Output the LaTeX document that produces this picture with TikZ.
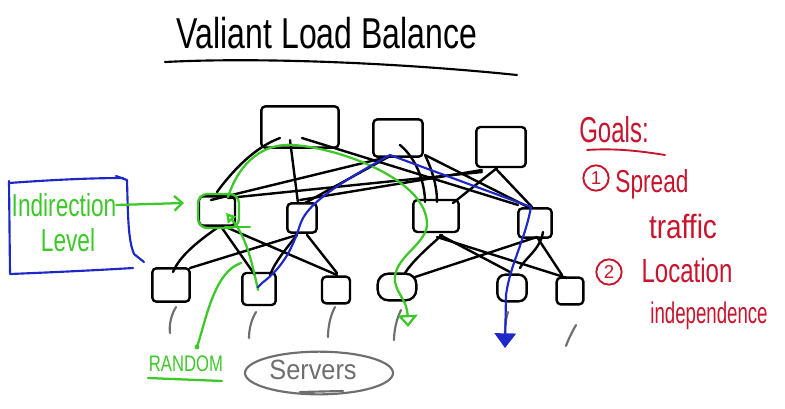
\documentclass[tikz,border=0pt]{standalone}
\usepackage{fontspec}
\usepackage{graphicx}
\setmainfont{Liberation Sans}
\usetikzlibrary{calc,arrows.meta,shapes.geometric}
\definecolor{gr}{RGB}{60,200,40}
\definecolor{bl}{RGB}{30,40,200}
\definecolor{rd}{RGB}{200,20,45}
\definecolor{sv}{RGB}{110,110,110}
\newcommand{\hw}[3]{{\fontsize{#1}{#1}\selectfont\scalebox{1}[#2]{#3}}}
\begin{document}
\begin{tikzpicture}[x=0.75pt,y=-0.75pt,line cap=round,line join=round,
  sw/.style={draw=black,line width=1.8pt,rounded corners=3pt,inner sep=0pt},
  wire/.style={draw=black,line width=1.8pt},
  gline/.style={draw=gr,line width=1.7pt},
  bline/.style={draw=bl,line width=1.6pt},
  rline/.style={draw=rd,line width=1.4pt},
  srv/.style={draw=sv,line width=1.6pt},
  lbl/.style={inner sep=0pt,outer sep=0pt}]
\useasboundingbox (0,0) rectangle (785,408);
\fill[white] (0,0) rectangle (785,408);

% title
\node[lbl] (title) at (327,33) {\hw{24}{1.35}{Valiant Load Balance}};
\draw[line width=1.6pt] (165,62) .. controls (260,57) and (400,63) .. (517,75);

% core switches
\node[sw,minimum width=58pt,minimum height=31pt] (C1) at (300,127) {};
\node[sw,minimum width=37pt,minimum height=28pt] (C2) at (398,138) {};
\node[sw,minimum width=37pt,minimum height=30pt] (C3) at (501,147) {};
% aggregation switches
\node[sw,minimum width=27pt,minimum height=22pt] (A1) at (217,211) {};
\node[sw,minimum width=22pt,minimum height=22pt] (A2) at (302,218) {};
\node[sw,minimum width=34pt,minimum height=24pt] (A3) at (436,216) {};
\node[sw,minimum width=25pt,minimum height=22pt] (A4) at (535,223) {};
% edge switches
\node[sw,minimum width=28pt,minimum height=25pt] (E1) at (171,285) {};
\node[sw,minimum width=25pt,minimum height=24pt] (E2) at (259,289) {};
\node[sw,minimum width=21pt,minimum height=20pt] (E3) at (336,290) {};
\node[sw,minimum width=29pt,minimum height=20pt,rounded corners=8pt] (E4) at (397,287) {};
\node[sw,minimum width=22pt,minimum height=20pt,rounded corners=6pt] (E5) at (512,288) {};
\node[sw,minimum width=20pt,minimum height=20pt] (E6) at (570,291) {};

% core - aggregation links
\draw[wire] ($(A1)+(0,-19)$) .. controls (236,166) and (258,146) .. ($(C1)+(-20,11)$);
\draw[wire] ($(A1)+(-6,-11)$) -- ($(C2)+(-6,18)$);
\draw[wire] ($(A1)+(11,-13)$) -- ($(C3)+(-19,25)$);
\draw[wire] ($(A2)+(-4,-15)$) -- ($(C1)+(-10,13)$);
\draw[wire] ($(A2)+(3,-15)$) -- ($(C2)+(-8,18)$);
\draw[wire] ($(A2)+(-2,-18)$) -- ($(C3)+(-19,23)$);
\draw[wire] ($(A3)+(-11,-14)$) .. controls (425,185) and (418,160) .. ($(C2)+(2,7)$);
\draw[wire] ($(A3)+(1,-14)$) .. controls (437,185) and (432,170) .. ($(C2)+(27,17)$);
\draw[wire] ($(A3)+(17,-13)$) -- ($(C3)+(-4,21)$);
\draw[wire] ($(A4)+(-17,-18)$) -- ($(C1)+(2,11)$);
\draw[wire] ($(A4)+(-5,-15)$) -- ($(C2)+(27,17)$);
\draw[wire] ($(A4)+(-3,-16)$) -- ($(C3)+(-4,23)$);

% aggregation - edge links
\draw[wire] ($(A1)+(0,17)$) .. controls (200,240) and (180,255) .. ($(E1)+(2,-13)$);
\draw[wire] ($(A1)+(5,17)$) -- ($(E2)+(-4,-14)$);
\draw[wire] ($(A1)+(11,17)$) -- ($(E3)+(1,-15)$);
\draw[wire] ($(A2)+(-5,17)$) -- ($(E1)+(19,-17)$);
\draw[wire] ($(A2)+(-5,17)$) .. controls (285,250) and (275,262) .. ($(E2)+(11,-14)$);
\draw[wire] ($(A2)+(5,17)$) -- ($(E3)+(1,-17)$);
\draw[wire] ($(A3)+(6,19)$) .. controls (425,250) and (412,262) .. ($(E4)+(8,-14)$);
\draw[wire] ($(A3)+(4,19)$) -- ($(E5)+(-2,-16)$);
\draw[wire] ($(A3)+(1,21)$) -- ($(E6)+(-3,-13)$);
\draw[wire] ($(A4)+(2,14)$) -- ($(E4)+(18,-10)$);
\draw[wire] ($(A4)+(8,9)$) .. controls (540,250) and (525,258) .. ($(E5)+(8,-20)$);
\draw[wire] ($(A4)+(2,14)$) -- ($(E6)+(-8,-16)$);

% servers
\draw[srv] (176,307) .. controls (171,315) and (169,325) .. (170,333);
\draw[srv] (256,312) .. controls (251,320) and (249,330) .. (249,338);
\draw[srv] (335,307) .. controls (330,316) and (328,328) .. (328,337);
\draw[srv] (401,310) .. controls (396,320) and (394,332) .. (394,340);
\draw[srv] (508,312) .. controls (506,318) and (505,326) .. (505,332);
\draw[srv] (576,325) .. controls (572,332) and (568,340) .. (566,346);
\node[srv,ellipse,minimum width=111pt,minimum height=32pt,inner sep=0pt] (srvs) at (319,373) {};
\node[lbl,text=sv] (srvt) at (313,370) {\hw{19}{1.1}{Servers}};
\draw[srv] ($(srvs)+(-19,19)$) -- ($(srvs)+(24,18)$);

% green route
\draw[gline,-{Triangle[open,length=7pt,width=8pt]}] ($(E2)+(-1,1)$) .. controls (252,262) and (246,236) .. ($(A1)+(9,2)$);
\draw[gline,rounded corners=7pt] ($(A1)+(-19,-17)$) rectangle ($(A1)+(22,17)$);
\draw[gline] ($(A1)+(8,16)$) -- ($(A1)+(33,16)$);
\coordinate (g4) at (408,327);
\draw[gline,-{Triangle[open,length=9pt,width=15pt]}] ($(A1)+(11,-14)$) .. controls (240,160) and (265,143) .. ($(C1)+(-7,18)$)
   .. controls (340,148) and (428,180) .. ($(A3)+(-9,9)$)
   .. controls (426,245) and (392,258) .. ($(E4)+(-2,-5)$)
   .. controls (398,296) and (407,300) .. (g4);

% blue route
\coordinate (b5) at (505,348);
\draw[bline,-{Triangle[length=11pt,width=16pt]}] ($(E2)+(-1,-2)$) -- ($(E2)+(3,-6)$)
   .. controls (282,268) and (292,250) .. ($(A2)+(-2,7)$)
   .. controls (306,206) and (330,188) .. ($(C2)+(-8,17)$)
   -- ($(A4)+(-4,-16)$)
   .. controls (525,240) and (510,265) .. ($(E5)+(-6,7)$)
   -- (b5);

% indirection label
\draw[bline] (9,181) -- (10,273);
\draw[bline] (9,183) .. controls (50,180) and (90,178) .. (123,178);
\draw[bline] (116,176) -- (127,180) .. controls (128,215) and (128,240) .. (134,254) -- (144,262);
\draw[bline] (10,274) .. controls (60,272) and (100,270) .. (133,268);
\node[lbl,text=gr] (indA) at (64,205) {\hw{17}{1.4}{Indirection}};
\node[lbl,text=gr] (indB) at (68,240) {\hw{17}{1.4}{Level}};
\draw[gline,-{Straight Barb[length=6pt,width=11pt]}] (indA.east) -- ($(A1)+(-33,-8)$);

% random
\node[lbl,text=gr] (rnd) at (186,364) {\hw{12.5}{1.35}{RANDOM}};
\draw[gline] (148,378) -- (222,381);
\coordinate (rtip) at (241,263);
\fill[gr] (197,347) circle (1.8pt);
\draw[gline] (197,347) .. controls (206,320) and (214,272) .. (rtip);

% goals
\node[lbl,text=rd] (goals) at (614,130) {\hw{18}{1.5}{Goals:}};
\draw[rline] (587,150) .. controls (615,148) and (640,151) .. (665,155);
\node[rline,circle,minimum size=19pt,inner sep=0pt,text=rd] (n1) at (596,178) {\fontsize{14}{14}\selectfont 1};
\node[lbl,text=rd] (g1) at (652,184) {\hw{17}{1.4}{Spread}};
\node[lbl,text=rd] (g1b) at (683,226) {\hw{21}{1.2}{traffic}};
\node[rline,circle,minimum size=19pt,inner sep=0pt,text=rd] (n2) at (609,272) {\fontsize{14}{14}\selectfont 2};
\node[lbl,text=rd] (g2) at (687,270) {\hw{18}{1.4}{Location}};
\node[lbl,text=rd] (g2b) at (709,316) {\hw{14}{1.6}{independence}};
\end{tikzpicture}
\end{document}
